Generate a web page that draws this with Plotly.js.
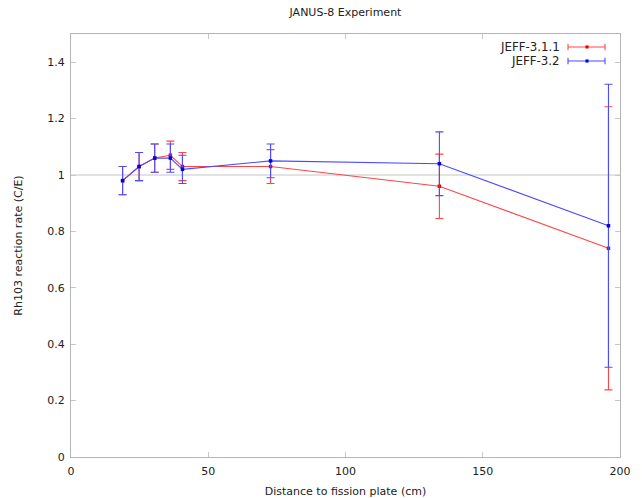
<!DOCTYPE html>
<html>
<head>
<meta charset="utf-8">
<script src="https://cdn.plot.ly/plotly-3.0.1.min.js"></script>
<style>html,body{margin:0;padding:0;background:#fff;}#chart{width:642px;height:498px;}</style>
</head>
<body>
<div id="chart"></div>
<script>
var seriesNames = ['JEFF-3.1.1', 'JEFF-3.2'];
var distance = [18.8, 24.8, 30.5, 36.2, 40.6, 72.7, 134.2, 195.8];
var jeff311 = [0.98, 1.03, 1.06, 1.07, 1.03, 1.03, 0.96, 0.74];
var jeff311Err = [0.05, 0.05, 0.05, 0.05, 0.05, 0.06, 0.114, 0.502];
var jeff32 = [0.98, 1.03, 1.06, 1.06, 1.02, 1.05, 1.04, 0.82];
var jeff32Err = [0.05, 0.05, 0.05, 0.05, 0.05, 0.06, 0.113, 0.502];
var xTicks = [0, 50, 100, 150, 200];
var yTicks = [0, 0.2, 0.4, 0.6, 0.8, 1, 1.2, 1.4];

var font = 'DejaVu Sans, sans-serif';
var colors = [{line: 'rgb(255,70,70)', marker: 'rgb(235,0,0)'}, {line: 'rgb(75,75,255)', marker: 'rgb(0,0,235)'}];
function trace(y, err, c, name) {
  return {
    x: distance, y: y, type: 'scatter', mode: 'lines+markers', name: name,
    line: {color: c.line, width: 1.1},
    marker: {color: c.marker, size: 3.5, symbol: 'square'},
    error_y: {type: 'data', array: err, visible: true, color: c.line, thickness: 1.1, width: 4},
    showlegend: false
  };
}
var data = [
  trace(jeff311, jeff311Err, colors[0], seriesNames[0]),
  trace(jeff32, jeff32Err, colors[1], seriesNames[1])
];
var axisCommon = {
  showgrid: false, zeroline: false, showline: true, linecolor: '#b4b4b4', linewidth: 1,
  mirror: 'ticks', ticks: 'inside', ticklen: 5, tickcolor: '#c8c8c8', tickwidth: 1,
  tickfont: {family: font, size: 11, color: '#222'}
};
// legend sample geometry (paper coordinates of the plot area)
var legX0 = 0.9053, legX1 = 0.9727, legXm = 0.9399, legTextX = 0.8944;
var legY = [0.9693, 0.9362], capH = 0.0075, mW = 0.0028, mH = 0.0037;
var shapes = [{type: 'line', xref: 'paper', x0: 0, x1: 1, yref: 'y', y0: 1, y1: 1, line: {color: '#d8d8d8', width: 1.5}, layer: 'below'}];
var annotations = [];
for (var i = 0; i < 2; i++) {
  var yy = legY[i], c = colors[i];
  shapes.push({type: 'line', xref: 'paper', yref: 'paper', x0: legX0, x1: legX1, y0: yy, y1: yy, line: {color: c.line, width: 1.1}});
  shapes.push({type: 'line', xref: 'paper', yref: 'paper', x0: legX0, x1: legX0, y0: yy - capH, y1: yy + capH, line: {color: c.line, width: 1.1}});
  shapes.push({type: 'line', xref: 'paper', yref: 'paper', x0: legX1, x1: legX1, y0: yy - capH, y1: yy + capH, line: {color: c.line, width: 1.1}});
  shapes.push({type: 'rect', xref: 'paper', yref: 'paper', x0: legXm - mW, x1: legXm + mW, y0: yy - mH, y1: yy + mH, line: {width: 0}, fillcolor: c.marker});
  annotations.push({text: seriesNames[i], xref: 'paper', yref: 'paper', x: legTextX, y: yy, xanchor: 'right', yanchor: 'middle', showarrow: false, font: {family: font, size: 11.8, color: '#222'}});
}
var layout = {
  width: 642, height: 498,
  margin: {l: 71, r: 22, t: 34, b: 41},
  paper_bgcolor: '#fff', plot_bgcolor: '#fff',
  font: {family: font, size: 11, color: '#222'},
  title: {text: 'JANUS-8 Experiment', x: 0.5, xref: 'paper', y: 0.975, yref: 'container', yanchor: 'middle', font: {family: font, size: 11, color: '#222'}},
  xaxis: Object.assign({}, axisCommon, {range: [0, 200], tickvals: xTicks, ticklabelstandoff: 4,
    title: {text: 'Distance to fission plate (cm)', standoff: 12, font: {family: font, size: 11, color: '#222'}}}),
  yaxis: Object.assign({}, axisCommon, {range: [0, 1.5], tickvals: yTicks, ticktext: yTicks.map(String), ticklabelstandoff: 3,
    title: {text: 'Rh103 reaction rate (C/E)', standoff: 22, font: {family: font, size: 11, color: '#222'}}}),
  shapes: shapes,
  annotations: annotations,
  showlegend: false
};
Plotly.newPlot('chart', data, layout, {displayModeBar: false, staticPlot: true});
</script>
</body>
</html>
